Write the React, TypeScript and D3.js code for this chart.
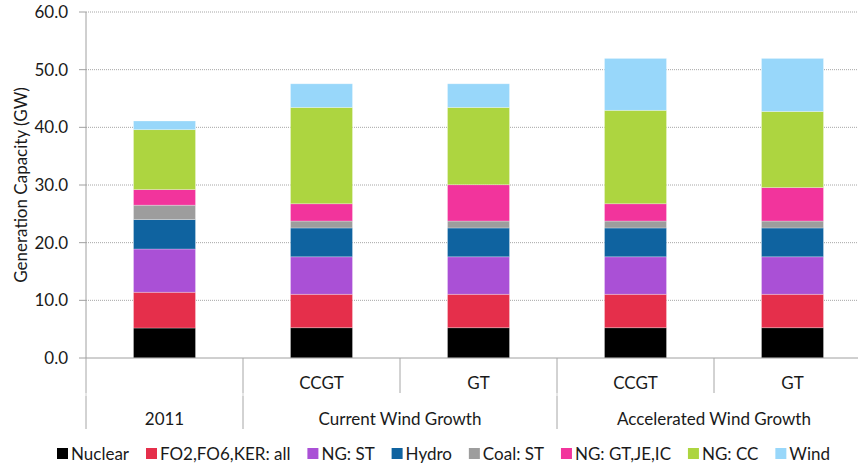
import React, { useEffect, useRef } from 'react';
import * as d3 from 'd3';

// categories along the x axis (two-level)
const categories = ['2011', 'CWG-CCGT', 'CWG-GT', 'AWG-CCGT', 'AWG-GT'];
const subLabels = ['', 'CCGT', 'GT', 'CCGT', 'GT'];
const groupLabels = ['2011', 'Current Wind Growth', 'Accelerated Wind Growth'];
const groupSpans = [1, 2, 2];

// generation capacity (GW) by technology
const seriesNames = ['Nuclear', 'FO2,FO6,KER: all', 'NG: ST', 'Hydro', 'Coal: ST', 'NG: GT,JE,IC', 'NG: CC', 'Wind'];
const nuclear = [5.2, 5.25, 5.25, 5.25, 5.25];
const fuelOil = [6.2, 5.8, 5.8, 5.8, 5.8];
const ngSteam = [7.5, 6.5, 6.5, 6.5, 6.5];
const hydro = [5.1, 5.0, 5.0, 5.0, 5.0];
const coal = [2.5, 1.2, 1.2, 1.2, 1.2];
const ngGT = [2.7, 3.0, 6.3, 3.0, 5.8];
const ngCC = [10.4, 16.7, 13.4, 16.2, 13.2];
const wind = [1.5, 4.1, 4.1, 9.0, 9.2];

const colors = ['#000000', '#e52f4b', '#aa50d6', '#0f63a0', '#9d9d9d', '#f2349c', '#add540', '#98d7fa'];
const yTicks = [0, 10, 20, 30, 40, 50, 60];

const FONT = 'Lato, "Open Sans", sans-serif';
const FS = '17px';

const App = () => {
  const ref = useRef<SVGSVGElement | null>(null);

  useEffect(() => {
    const svg = d3.select(ref.current);
    svg.selectAll('*').remove();

    const width = 858;
    const height = 466;
    const left = 86;
    const right = 871;
    const top = 12;
    const bottom = 358;

    const allSeries = [nuclear, fuelOil, ngSteam, hydro, coal, ngGT, ngCC, wind];
    const table = categories.map((c, i) => {
      const row: any = { category: c };
      seriesNames.forEach((s, j) => (row[s] = allSeries[j][i]));
      return row;
    });

    const x = d3.scaleBand().domain(categories).range([left, right]).paddingInner(0.605).paddingOuter(0.3025);
    const y = d3.scaleLinear().domain([0, 60]).range([bottom, top]);

    const stacked = d3.stack().keys(seriesNames)(table);

    // gridlines
    svg.append('g')
      .selectAll('line')
      .data(yTicks.filter(t => t > 0))
      .enter()
      .append('line')
      .attr('x1', left)
      .attr('x2', width)
      .attr('y1', d => y(d))
      .attr('y2', d => y(d))
      .attr('stroke', '#a6a6a6')
      .attr('stroke-width', 1)
      .attr('stroke-dasharray', '1,1');

    // bars
    svg.append('g')
      .selectAll('g')
      .data(stacked)
      .enter()
      .append('g')
      .attr('fill', (d, i) => colors[i])
      .selectAll('rect')
      .data(d => d)
      .enter()
      .append('rect')
      .attr('x', (d: any) => x(d.data.category) as number)
      .attr('width', x.bandwidth())
      .attr('y', d => y(d[1]))
      .attr('height', d => y(d[0]) - y(d[1]))
      .attr('stroke', 'rgba(255,255,255,0.35)')
      .attr('stroke-width', 0.8);

    // y axis
    const yAxis = svg.append('g');
    yAxis.append('line')
      .attr('x1', left).attr('x2', left)
      .attr('y1', top).attr('y2', bottom)
      .attr('stroke', '#a0a0a0');
    yAxis.selectAll('line.tick')
      .data(yTicks)
      .enter()
      .append('line')
      .attr('class', 'tick')
      .attr('x1', left - 7).attr('x2', left)
      .attr('y1', d => y(d)).attr('y2', d => y(d))
      .attr('stroke', '#a0a0a0');
    yAxis.selectAll('text')
      .data(yTicks)
      .enter()
      .append('text')
      .attr('x', left - 18)
      .attr('y', d => y(d))
      .attr('dy', '0.35em')
      .attr('text-anchor', 'end')
      .style('font-family', FONT)
      .style('font-size', FS)
      .style('fill', '#1a1a1a')
      .text(d => d.toFixed(1));

    svg.append('text')
      .attr('transform', `translate(21,${(top + bottom) / 2}) rotate(-90)`)
      .attr('text-anchor', 'middle')
      .attr('dy', '0.35em')
      .style('font-family', FONT)
      .style('font-size', FS)
      .style('fill', '#1a1a1a')
      .text('Generation Capacity (GW)');

    // x axis baseline
    svg.append('line')
      .attr('x1', left).attr('x2', width)
      .attr('y1', bottom).attr('y2', bottom)
      .attr('stroke', '#a0a0a0');

    const step = x.step();
    const level1Bottom = 393;
    const level2Top = 396;
    const level2Bottom = 429;

    // level 1 dividers
    svg.append('g')
      .selectAll('line')
      .data(d3.range(categories.length + 1))
      .enter()
      .append('line')
      .attr('x1', i => left + i * step)
      .attr('x2', i => left + i * step)
      .attr('y1', bottom)
      .attr('y2', level1Bottom)
      .attr('stroke', '#a6a6a6');

    // level 1 labels
    svg.append('g')
      .selectAll('text')
      .data(categories)
      .enter()
      .append('text')
      .attr('x', d => (x(d) as number) + x.bandwidth() / 2)
      .attr('y', 383)
      .attr('dy', '0.35em')
      .attr('text-anchor', 'middle')
      .style('font-family', FONT)
      .style('font-size', FS)
      .style('fill', '#1a1a1a')
      .text((d, i) => subLabels[i]);

    // level 2 dividers and labels
    const starts = groupSpans.map((s, i) => d3.sum(groupSpans.slice(0, i)));
    const bounds = [...starts, categories.length];
    svg.append('g')
      .selectAll('line')
      .data(bounds)
      .enter()
      .append('line')
      .attr('x1', i => left + i * step)
      .attr('x2', i => left + i * step)
      .attr('y1', level2Top)
      .attr('y2', level2Bottom)
      .attr('stroke', '#a6a6a6');
    svg.append('g')
      .selectAll('line')
      .data(bounds)
      .enter()
      .append('line')
      .attr('x1', i => left + i * step)
      .attr('x2', i => left + i * step)
      .attr('y1', level1Bottom)
      .attr('y2', level2Top)
      .attr('stroke', '#d0d0d0');
    svg.append('g')
      .selectAll('text')
      .data(groupLabels)
      .enter()
      .append('text')
      .attr('x', (d, i) => left + (starts[i] + groupSpans[i] / 2) * step)
      .attr('y', 419)
      .attr('dy', '0.35em')
      .attr('text-anchor', 'middle')
      .style('font-family', FONT)
      .style('font-size', FS)
      .style('fill', '#1a1a1a')
      .text(d => d);

    // legend
    const legend = svg.append('g');
    const items = legend.selectAll('g')
      .data(seriesNames)
      .enter()
      .append('g');
    items.append('rect')
      .attr('width', 11)
      .attr('height', 11)
      .attr('y', 448)
      .attr('fill', (d, i) => colors[i]);
    items.append('text')
      .attr('x', 14)
      .attr('y', 454)
      .attr('dy', '0.35em')
      .style('font-family', FONT)
      .style('font-size', FS)
      .style('fill', '#1a1a1a')
      .text(d => d);
    const widths: number[] = [];
    items.selectAll('text').each(function () {
      widths.push((this as SVGTextElement).getComputedTextLength());
    });
    const itemWidths = widths.map(w => 14 + w);
    const span = 830 - 57;
    const itemGap = (span - d3.sum(itemWidths)) / (itemWidths.length - 1);
    let cx = 57;
    items.attr('transform', (d, i) => {
      const t = `translate(${cx},0)`;
      cx += itemWidths[i] + itemGap;
      return t;
    });

    svg.attr('width', width).attr('height', height);
  }, []);

  return (
    <svg
      ref={ref}
      width={858}
      height={466}
      style={{ position: 'absolute', left: 0, top: 0, background: '#fff' }}
    />
  );
};

export default App;
